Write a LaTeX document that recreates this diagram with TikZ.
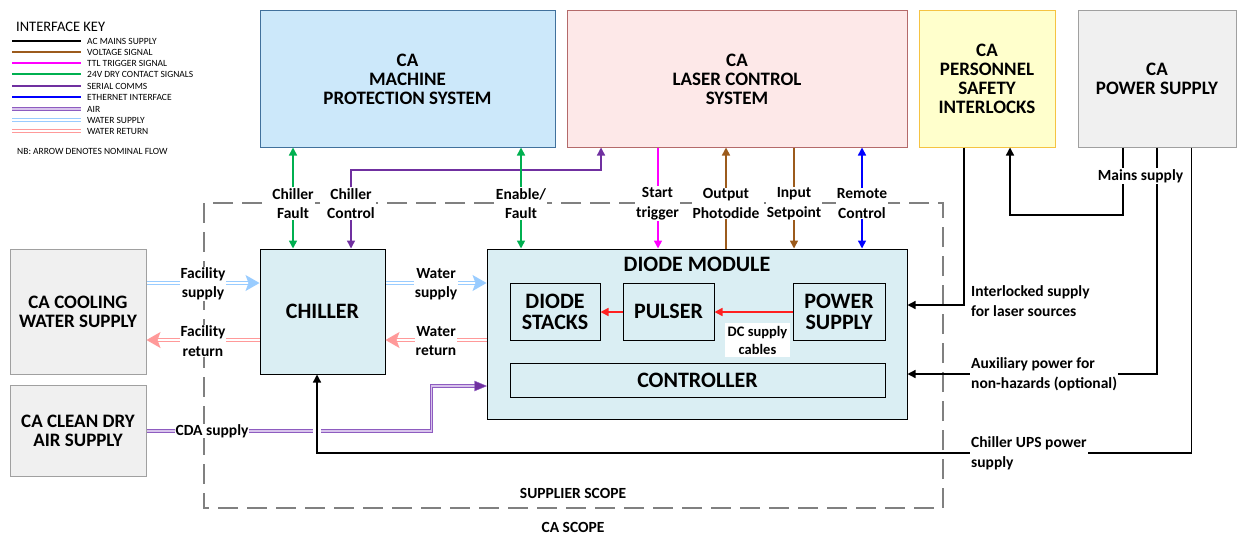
\documentclass[tikz,border=0pt]{standalone}
\usepackage{fontspec}
\setmainfont{Carlito}
\usetikzlibrary{arrows.meta,calc}
\definecolor{sgreen}{HTML}{00B050}
\definecolor{spurple}{HTML}{7030A0}
\definecolor{smagenta}{HTML}{FF00FF}
\definecolor{sbrown}{HTML}{9C5B1C}
\definecolor{sblue}{HTML}{0000FF}
\definecolor{airc}{HTML}{8E5CC0}
\definecolor{airin}{HTML}{D8C4EC}
\definecolor{wsup}{HTML}{99CCFF}
\definecolor{wret}{HTML}{FF9999}
\definecolor{mpsfill}{HTML}{CCE8FA}
\definecolor{mpsdraw}{HTML}{41719C}
\definecolor{lcsfill}{HTML}{FDE8E8}
\definecolor{lcsdraw}{HTML}{B46A6A}
\definecolor{psifill}{HTML}{FFFFCC}
\definecolor{psidraw}{HTML}{F5C342}
\definecolor{grayfill}{HTML}{F0F0F0}
\definecolor{graydraw}{HTML}{A0A0A0}
\definecolor{modfill}{HTML}{DAEEF3}
\definecolor{scopec}{HTML}{808080}
\definecolor{dcred}{HTML}{FF2020}
\begin{document}
\begin{tikzpicture}[x=1pt,y=-1pt,
  >={Triangle[length=8pt,width=8pt]},
  outerbox/.style={draw, line width=1pt, align=center, inner sep=0pt,
    font=\fontsize{19}{19}\selectfont\bfseries},
  modbox/.style={draw=black, fill=modfill, line width=1pt, inner sep=0pt, align=center,
    font=\fontsize{22}{21}\selectfont\bfseries},
  lbl/.style={fill=white, inner sep=1pt, align=center,
    font=\fontsize{15.5}{19.5}\selectfont\bfseries},
  lbll/.style={lbl, align=left, anchor=west},
  sig/.style={line width=1.6pt},
  pwr/.style={line width=1.4pt, draw=black},
  wsupply/.style={draw=wsup, line width=1pt, double=white, double distance=1.6pt,
    -{Stealth[length=14pt,width=16pt,inset=3pt]}},
  wreturn/.style={draw=wret, line width=1pt, double=white, double distance=1.6pt,
    -{Stealth[length=14pt,width=16pt,inset=3pt]}},
  airline/.style={draw=airc, line width=1pt, double=airin, double distance=1.2pt},
  keytxt/.style={anchor=west, inner sep=0pt, font=\fontsize{9.5}{10}\selectfont},
  keyline/.style={line width=1.6pt}
]
\useasboundingbox (0,0) rectangle (1238,535);

% ---------- legend ----------
\node[anchor=west, inner sep=0pt, font=\fontsize{14.5}{15}\selectfont] (keyt) at (16,27) {INTERFACE KEY};
\draw[keyline, black] (12,41) -- (81,41);
\node[keytxt] (k1) at (87,41) {AC MAINS SUPPLY};
\draw[keyline, sbrown] (12,52) -- (81,52);
\node[keytxt] (k2) at (87,52) {VOLTAGE SIGNAL};
\draw[keyline, smagenta] (12,63) -- (81,63);
\node[keytxt] (k3) at (87,63) {TTL TRIGGER SIGNAL};
\draw[keyline, sgreen] (12,74) -- (81,74);
\node[keytxt] (k4) at (87,74) {24V DRY CONTACT SIGNALS};
\draw[keyline, spurple] (12,86) -- (81,86);
\node[keytxt] (k5) at (87,86) {SERIAL COMMS};
\draw[keyline, sblue] (12,97) -- (81,97);
\node[keytxt] (k6) at (87,97) {ETHERNET INTERFACE};
\draw[airline] (12,109) -- (81,109);
\node[keytxt] (k7) at (87,109) {AIR};
\draw[draw=wsup, line width=1pt, double=white, double distance=1.2pt] (12,120) -- (81,120);
\node[keytxt] (k8) at (87,120) {WATER SUPPLY};
\draw[draw=wret, line width=1pt, double=white, double distance=1.2pt] (12,131) -- (81,131);
\node[keytxt] (k9) at (87,131) {WATER RETURN};
\node[keytxt] (knb) at (17,151) {NB: ARROW DENOTES NOMINAL FLOW};

% ---------- supplier scope ----------
\draw[scopec, line width=1.2pt, dash pattern=on 20pt off 9pt] (204,203) rectangle (943,508);
\node[font=\fontsize{15.5}{16}\selectfont\bfseries] (sscope) at (573,493) {SUPPLIER SCOPE};
\node[font=\fontsize{15.5}{16}\selectfont\bfseries] (cascope) at (573,527) {CA SCOPE};

% ---------- boxes ----------
\node[outerbox, draw=mpsdraw, fill=mpsfill, minimum width=295pt, minimum height=136pt] (mps) at (407.5,79) {CA\\MACHINE\\PROTECTION SYSTEM};
\node[outerbox, draw=lcsdraw, fill=lcsfill, minimum width=340pt, minimum height=136pt] (lcs) at (737,79) {CA\\LASER CONTROL\\SYSTEM};
\node[outerbox, draw=psidraw, fill=psifill, minimum width=136pt, minimum height=136pt] (psi) at (987,79) {CA\\PERSONNEL\\SAFETY\\INTERLOCKS};
\node[outerbox, draw=graydraw, fill=grayfill, minimum width=158pt, minimum height=136pt] (caps) at (1157,79) {CA\\POWER SUPPLY};
\node[outerbox, draw=graydraw, fill=grayfill, minimum width=136pt, minimum height=125pt] (cool) at (78,311.5) {CA COOLING\\WATER SUPPLY};
\node[outerbox, draw=graydraw, fill=grayfill, minimum width=136pt, minimum height=91pt] (cda) at (78,430.5) {CA CLEAN DRY\\AIR SUPPLY};

\node[modbox, minimum width=125pt, minimum height=125pt] (chiller) at (322.5,311.5) {CHILLER};
\node[modbox, minimum width=420pt, minimum height=170pt] (dm) at (697,334) {};
\node[font=\fontsize{22}{21}\selectfont\bfseries, inner sep=0pt] (dmt) at (697,264) {DIODE MODULE};
\node[modbox, minimum width=90pt, minimum height=57pt] (ds) at (555,311.5) {DIODE\\STACKS};
\node[modbox, minimum width=91pt, minimum height=57pt] (pul) at (668.5,311.5) {PULSER};
\node[modbox, minimum width=92pt, minimum height=57pt] (ps) at (839,311.5) {POWER\\SUPPLY};
\node[modbox, minimum width=375pt, minimum height=34pt] (ctrl) at (697.5,380) {CONTROLLER};

% ---------- reference coordinates ----------
\coordinate (xcf) at (293,0);
\coordinate (xcc) at (351,0);
\coordinate (ccbend) at (351,170);
\coordinate (xlcsc) at (601,0);
\coordinate (xen) at (521,0);
\coordinate (xst) at (658,0);
\coordinate (xop) at (726,0);
\coordinate (xis) at (794,0);
\coordinate (xrc) at (862,0);
\coordinate (ysup) at (0,283);
\coordinate (yret) at (0,340);
\coordinate (ydc) at (0,312);
\coordinate (cdabend) at (431.5,386);
\coordinate (ups) at (1191.5,453);
\coordinate (upsx) at (317,0);
\coordinate (aux) at (1157,374);
\coordinate (ilk) at (964,305);
\coordinate (mainsA) at (1123,215);
\coordinate (mainsB) at (1010,215);

% ---------- signal connectors ----------
\draw[sig, sgreen, <->] (mps.south -| xcf) -- (chiller.north -| xcf);
\draw[sig, spurple, <->, line width=1.4pt] (chiller.north -| xcc) -- (ccbend) -| (lcs.south -| xlcsc);
\draw[sig, sgreen, <->] (mps.south -| xen) -- (dm.north -| xen);
\draw[sig, draw=smagenta, fill=smagenta, ->] (lcs.south -| xst) -- (dm.north -| xst);
\draw[sig, sbrown, <-] (lcs.south -| xop) -- (dm.north -| xop);
\draw[sig, sbrown, ->] (lcs.south -| xis) -- (dm.north -| xis);
\draw[sig, sblue, <->] (lcs.south -| xrc) -- (dm.north -| xrc);

\node[lbl] (lcf) at (293,203.5) {Chiller\\Fault};
\node[lbl] (lcc) at (351,203.5) {Chiller\\Control};
\node[lbl] (len) at (521,203.5) {Enable/\\Fault};
\node[lbl] (lst) at (657.5,203.5) {Start\\trigger};
\node[lbl] (lop) at (726,203.5) {Output\\Photodide};
\node[lbl] (lis) at (794,203.5) {Input\\Setpoint};
\node[lbl] (lrc) at (862,203.5) {Remote\\Control};

% ---------- water ----------
\draw[wsupply] (cool.east |- ysup) -- (chiller.west |- ysup);
\draw[wsupply] (chiller.east |- ysup) -- (dm.west |- ysup);
\draw[wreturn] (chiller.west |- yret) -- (cool.east |- yret);
\draw[wreturn] (dm.west |- yret) -- (chiller.east |- yret);
\node[lbl] (lfs) at (203,284) {Facility\\supply};
\node[lbl] (lfr) at (203,341) {Facility\\return};
\node[lbl] (lws) at (436,284) {Water\\supply};
\node[lbl] (lwr) at (436,341) {Water\\return};

% ---------- air ----------
\draw[airline] (cda.east |- 0,431) -| (cdabend) -- ($(dm.west |- cdabend)+(-12,0)$);
\draw[draw=airc, fill=spurple] (dm.west |- cdabend) -- ++(-12,-5) -- ++(0,10) -- cycle;
\node[lbl, inner sep=0.5pt] (lcda) at (212,431) {CDA supply};

% ---------- power ----------
\draw[white, line width=8pt] (317,426) -- (317,436);
\draw[pwr, ->] (caps.south -| ups) -- (ups) -| (chiller.south -| upsx);
\draw[pwr, ->] (caps.south -| aux) -- (aux) -- (dm.east |- aux);
\draw[pwr, ->] (psi.south -| ilk) -- (ilk) -- (dm.east |- ilk);
\draw[pwr, ->] (caps.south -| mainsA) -- (mainsA) -- (mainsB) -- (psi.south -| mainsB);
\node[lbl] (lmains) at (1140.5,176) {Mains supply};
\node[lbll] (lilk) at (970,301) {Interlocked supply\\for laser sources};
\node[lbll] (laux) at (970,374.5) {Auxiliary power for\\non-hazards (optional)};
\node[lbll] (lups) at (970,453.5) {Chiller UPS power\\supply};

% ---------- DC supply ----------
\draw[sig, draw=dcred, fill=dcred, ->] (ps.west |- ydc) -- (pul.east |- ydc);
\draw[sig, draw=dcred, fill=dcred, ->] (pul.west |- ydc) -- (ds.east |- ydc);
\node[lbl, inner sep=3pt, font=\fontsize{14.5}{18}\selectfont\bfseries] (ldc) at (757.5,340) {DC supply\\cables};
\end{tikzpicture}
\end{document}
